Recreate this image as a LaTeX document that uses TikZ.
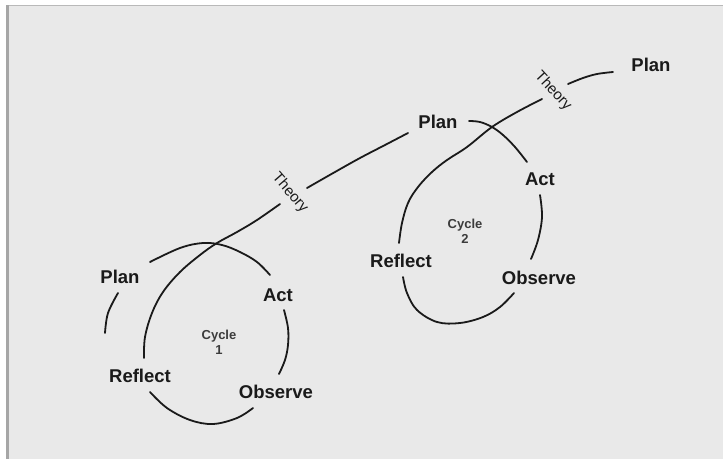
\documentclass[tikz,border=0pt]{standalone}
\usepackage{fontspec}
\setmainfont{Liberation Sans}
\definecolor{panel}{HTML}{E9E9E9}
\definecolor{ink}{HTML}{1A1A1A}
\tikzset{
  stage/.style={font=\fontsize{18.5}{20}\selectfont\bfseries, text=ink, inner sep=0pt},
  cyclelabel/.style={font=\fontsize{13}{15}\selectfont\bfseries, text=ink!85, align=center, inner sep=0pt},
  theorylabel/.style={font=\fontsize{15}{16}\selectfont, text=ink, inner sep=0pt},
  arcline/.style={draw=ink, line width=1.8pt, line cap=round},
  curve/.style={smooth, tension=0.6},
}
\begin{document}
\begin{tikzpicture}[x=1pt,y=-1pt]
\useasboundingbox (0,0) rectangle (723,464);
% panel and its edges
\fill[panel] (8,6) rectangle (723,459);
\draw[gray!55, line width=1pt] (7,5.5) -- (723,5.5);
\draw[gray!70, line width=2.5pt] (7.5,5) -- (7.5,459);

% cycle 1 labels
\node[stage] (plan1) at (120,277) {Plan};
\node[stage] (act1) at (278,295) {Act};
\node[stage] (obs1) at (276,392) {Observe};
\node[stage] (ref1) at (140,376) {Reflect};
\node[cyclelabel] (cyc1) at (219,342) {Cycle\\1};
\node[theorylabel, rotate=-49] (th1) at (290,193) {Theory};
% cycle 2 labels
\node[stage] (plan2) at (438,122) {Plan};
\node[stage] (act2) at (540,179) {Act};
\node[stage] (obs2) at (539,278) {Observe};
\node[stage] (ref2) at (401,261) {Reflect};
\node[cyclelabel] (cyc2) at (465,231) {Cycle\\2};
\node[theorylabel, rotate=-47] (th2) at (553,91) {Theory};
\node[stage] (plan3) at (651,65) {Plan};

% end points of the arcs
\coordinate (p1a) at (150,262); \coordinate (a1a) at (270,275);
\coordinate (a1b) at (284,310); \coordinate (o1a) at (279,374);
\coordinate (o1b) at (253,408); \coordinate (r1a) at (150,392);
\coordinate (r1b) at (105,333); \coordinate (p1b) at (118,293);
\coordinate (r1c) at (144,358); \coordinate (t1a) at (280,204);
\coordinate (t1b) at (307,188); \coordinate (p2a) at (408,133);
\coordinate (p2b) at (469,121); \coordinate (a2a) at (527,162);
\coordinate (a2b) at (540,195); \coordinate (o2a) at (531,259);
\coordinate (o2b) at (514,293); \coordinate (r2a) at (403,277);
\coordinate (r2c) at (399,243); \coordinate (t2a) at (542,99);
\coordinate (t2b) at (568,84);  \coordinate (p3a) at (613,72);

% cycle 1
\draw[arcline] plot[curve] coordinates {(p1a) (180,248) (203,243) (222,245) (240,252) (257,262) (a1a)};
\draw[arcline] plot[curve] coordinates {(a1b) (288,328) (288,345) (285,360) (o1a)};
\draw[arcline] plot[curve] coordinates {(o1b) (237,418) (213,424) (190,420) (167,408) (r1a)};
\draw[arcline] plot[curve] coordinates {(r1b) (108,313) (p1b)};
\draw[arcline] plot[curve] coordinates {(r1c) (145,337) (152,313) (163,292) (180,272) (200,255) (217,243) (237,232) (257,220) (t1a)};
\draw[arcline] plot[curve] coordinates {(t1b) (335,172) (360,158) (385,145) (p2a)};
% cycle 2
\draw[arcline] plot[curve] coordinates {(p2b) (480,122) (492,127) (503,135) (515,147) (a2a)};
\draw[arcline] plot[curve] coordinates {(a2b) (542,217) (538,240) (o2a)};
\draw[arcline] plot[curve] coordinates {(o2b) (500,307) (483,317) (460,323) (437,322) (417,310) (407,293) (r2a)};
\draw[arcline] plot[curve] coordinates {(r2c) (402,223) (408,203) (418,187) (432,172) (447,160) (467,147) (492,127) (517,112) (t2a)};
\draw[arcline] plot[curve] coordinates {(t2b) (583,78) (597,74) (p3a)};
\end{tikzpicture}
\end{document}
